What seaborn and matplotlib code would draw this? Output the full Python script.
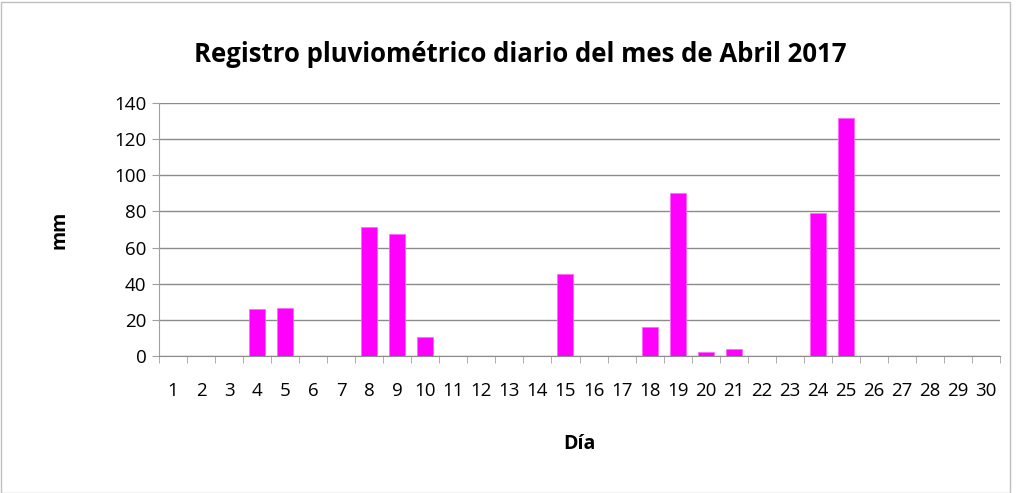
import matplotlib
matplotlib.use("Agg")
import matplotlib.pyplot as plt
import seaborn as sns
import pandas as pd
import numpy as np
from matplotlib.patches import Rectangle

dias = [str(d) for d in range(1, 31)]
mm = [0, 0, 0, 26.2, 26.8, 0, 0, 71.4, 67.5, 10.7,
      0, 0, 0, 0, 45.5, 0, 0, 16.0, 90.2, 2.2,
      4.0, 0, 0, 79.3, 131.7, 0, 0, 0, 0, 0]
yticks = [0, 20, 40, 60, 80, 100, 120, 140]

df = pd.DataFrame({"Día": dias, "mm": mm})

sns.set_style("white")
plt.rcParams['font.family'] = ['Open Sans', 'DejaVu Sans']

fig = plt.figure(figsize=(10.16, 4.93), dpi=100)
ax = fig.add_axes([159/1016, 1 - 356/493, (1000-159)/1016, (356-103)/493])

sns.barplot(data=df, x="Día", y="mm", color="#FF00FF", saturation=1,
            width=0.57, edgecolor="#FF66FF", linewidth=0.6, ax=ax, zorder=3)

ax.set_ylim(0, 140)
ax.set_xlim(-0.5, 29.5)
ax.set_yticks(yticks)
ax.set_yticklabels([str(v) for v in yticks], fontsize=13.5, color="#000000")
ax.yaxis.grid(True, color="#8c8c8c", linewidth=1)
ax.set_axisbelow(True)
ax.tick_params(axis='y', length=5, color="#a0a0a0", pad=4, direction='out', left=True)

ax.set_xticks(range(30))
ax.set_xticklabels(dias, fontsize=13.5, color="#000000")
ax.tick_params(axis='x', which='major', length=0, pad=19)
ax.set_xticks(np.arange(-0.5, 30, 1), minor=True)
ax.tick_params(axis='x', which='minor', length=5, color="#a0a0a0", bottom=True)

for s in ["top", "right"]:
    ax.spines[s].set_visible(False)
ax.spines["left"].set_color("#a0a0a0")
ax.spines["bottom"].set_color("#8c8c8c")

ax.set_xlabel("Día", fontsize=14, fontweight="bold", labelpad=24, color="#000000")
ax.set_ylabel("mm", fontsize=14, fontweight="bold", labelpad=32, color="#000000")

fig.text(520/1016, 1 - 55/493, "Registro pluviométrico diario del mes de Abril 2017",
         ha="center", va="center", fontsize=18.5, fontweight="bold", color="#000000")

fig.patches.append(Rectangle((0.5/1016, 0.5/493), 1009/1016, 491/493,
                             transform=fig.transFigure, fill=False,
                             edgecolor="#bfbfbf", linewidth=1))

fig.savefig("out.png", dpi=100)
